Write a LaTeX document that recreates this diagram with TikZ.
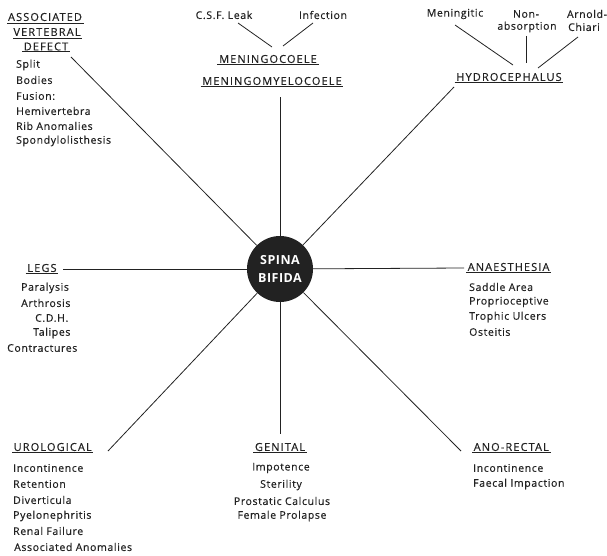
\documentclass[tikz,border=0pt]{standalone}
\usepackage{fontspec}
\setmainfont{Open Sans}[LetterSpace=6,FakeBold=0.4]
\newfontfamily\capsfont{Open Sans}[LetterSpace=10,FakeBold=0.4]
\newfontfamily\hubfont{Open Sans}[LetterSpace=4]
\definecolor{ink}{HTML}{222222}
\tikzset{
  every node/.style={text=ink},
  conn/.style={draw=ink, line width=0.8pt},
  head/.style={font=\capsfont\fontsize{11}{13}\selectfont, inner xsep=1.5pt, inner ysep=1.2pt,
    append after command={(\tikzlastnode.south west) edge[draw=ink, line width=0.9pt] (\tikzlastnode.south east)}},
  headplain/.style={font=\capsfont\fontsize{11}{13}\selectfont, inner sep=1pt},
  item/.style={font=\fontsize{10.5}{12}\selectfont, inner sep=0pt, anchor=west},
  itemc/.style={font=\fontsize{10.5}{12}\selectfont, inner sep=0pt},
  hub/.style={circle, fill=ink, minimum size=66pt, inner sep=0pt, align=center,
    text=white, font=\hubfont\bfseries\fontsize{12.5}{17.5}\selectfont},
}
\begin{document}
\begin{tikzpicture}[x=1pt,y=-1pt]
\useasboundingbox (0,0) rectangle (607,556);
% hub
\node[hub] (sb) at (280,269) {SPINA\\BIFIDA};

% top: meningocoele
\node[itemc] (csf) at (224,15) {C.S.F. Leak};
\node[itemc] (inf) at (323,15) {Infection};
\node[head] (mc) at (268,59) {MENINGOCOELE};
\node[head] (mmc) at (272,81) {MENINGOMYELOCOELE};
\coordinate (csfend) at (238,23);
\coordinate (mcl) at (272,47);
\coordinate (infend) at (313,23);
\coordinate (mcr) at (283,46);
\draw[conn] (csfend) -- (mcl);
\draw[conn] (infend) -- (mcr);
\coordinate (topend) at (280,97);
\draw[conn] (sb) -- (topend);

% hydrocephalus
\node[itemc] (men) at (455,14) {Meningitic};
\node[itemc] (non) at (526,14) {Non-};
\node[itemc] (abs) at (527,27) {absorption};
\node[itemc] (arn) at (587,14) {Arnold-};
\node[itemc] (chi) at (584,27) {Chiari};
\node[head] (hyd) at (509,77) {HYDROCEPHALUS};
\coordinate (menend) at (455,25);
\coordinate (hydl) at (513,65);
\coordinate (absend) at (526,36);
\coordinate (hydm) at (526,63);
\coordinate (chiend) at (578,37);
\coordinate (hydr) at (538,68);
\draw[conn] (menend) -- (hydl);
\draw[conn] (absend) -- (hydm);
\draw[conn] (chiend) -- (hydr);
\coordinate (urend) at (454,87);
\draw[conn] (sb) -- (urend);

% associated vertebral defect
\node[headplain] (av1) at (45,17) {ASSOCIATED};
\draw[draw=ink, line width=0.9pt] (7,23.5) -- (84,23.5);
\node[headplain] (av2) at (47,32) {VERTEBRAL};
\draw[draw=ink, line width=0.9pt] (13,38.5) -- (82,38.5);
\node[head] (av3) at (46,46.5) {DEFECT};
\node[item] (a1) at (16,65) {Split};
\node[item] (a2) at (16,80) {Bodies};
\node[item] (a3) at (16,96) {Fusion:};
\node[item] (a4) at (16,111) {Hemivertebra};
\node[item] (a5) at (16,126) {Rib Anomalies};
\node[item] (a6) at (16,141) {Spondylolisthesis};
\coordinate (ulend) at (71,57);
\draw[conn] (sb) -- (ulend);

% legs
\node[head] (legs) at (42,268) {LEGS};
\node[item] (l1) at (21,288) {Paralysis};
\node[item] (l2) at (21,303) {Arthrosis};
\node[item] (l3) at (35,318) {C.D.H.};
\node[item] (l4) at (33,333) {Talipes};
\node[item] (l5) at (7,348) {Contractures};
\coordinate (lend) at (63,269);
\draw[conn] (sb) -- (lend);

% anaesthesia
\node[head, anchor=west] (ana) at (466,267) {ANAESTHESIA};
\node[item] (n1) at (469,287) {Saddle Area};
\node[item] (n2) at (469,302) {Proprioceptive};
\node[item] (n3) at (469,317) {Trophic Ulcers};
\node[item] (n4) at (469,332) {Osteitis};
\coordinate (rend) at (464,268);
\draw[conn] (sb) -- (rend);

% urological
\node[head, anchor=west] (uro) at (12,447) {UROLOGICAL};
\node[item] (u1) at (13,468) {Incontinence};
\node[item] (u2) at (13,484) {Retention};
\node[item] (u3) at (13,500) {Diverticula};
\node[item] (u4) at (13,516) {Pyelonephritis};
\node[item] (u5) at (13,531) {Renal Failure};
\node[item] (u6) at (14,547) {Associated Anomalies};
\coordinate (llend) at (108,451);
\draw[conn] (sb) -- (llend);

% genital
\node[head] (gen) at (280,447) {GENITAL};
\node[itemc] (g1) at (281,468) {Impotence};
\node[itemc] (g2) at (281,485) {Sterility};
\node[itemc] (g3) at (282,501) {Prostatic Calculus};
\node[itemc] (g4) at (282,516) {Female Prolapse};
\coordinate (bend) at (280,434);
\draw[conn] (sb) -- (bend);

% ano-rectal
\node[head, anchor=west] (ano) at (472,447) {ANO-RECTAL};
\node[item] (r1) at (473,468) {Incontinence};
\node[item] (r2) at (473,484) {Faecal Impaction};
\coordinate (lrend) at (461,451);
\draw[conn] (sb) -- (lrend);
\end{tikzpicture}
\end{document}
